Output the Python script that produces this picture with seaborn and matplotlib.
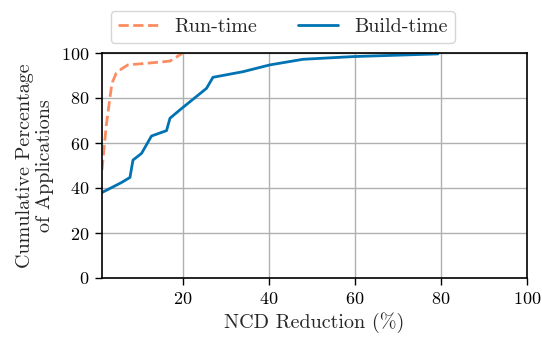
import pandas as pd
import seaborn as sns
import matplotlib.pyplot as plt

# cumulative share of applications vs NCD reduction
run_x = [1.2, 1.6, 2.2, 3.5, 4.5, 5.8, 7.2, 12.0, 17.0, 20.0]
run_y = [48.0, 56.0, 68.0, 86.5, 91.0, 93.0, 94.7, 95.5, 96.4, 100.0]

build_x = [1.2, 5.7, 7.7, 8.4, 10.4, 12.7, 16.2, 17.0, 19.3, 25.5, 27.0, 34.0, 40.2, 47.9, 59.5, 79.3]
build_y = [38.0, 42.4, 44.7, 52.4, 55.4, 63.1, 65.5, 71.0, 74.7, 84.3, 89.2, 91.7, 94.7, 97.2, 98.4, 99.6]

sns.set_style("ticks")
plt.rcParams['font.family'] = 'serif'
plt.rcParams['font.serif'] = ['cmr10']
plt.rcParams['mathtext.fontset'] = 'cm'
plt.rcParams['axes.formatter.use_mathtext'] = True

df_run = pd.DataFrame({"x": run_x, "y": run_y})
df_build = pd.DataFrame({"x": build_x, "y": build_y})

fig = plt.figure(figsize=(5.42, 3.37), dpi=100)
ax = fig.add_axes([102 / 542, 1 - 278 / 337, 425 / 542, 225 / 337])

sns.lineplot(data=df_run, x="x", y="y", ax=ax, sort=False, color="#FC8D62",
             linestyle="--", linewidth=2, label="Run-time")
sns.lineplot(data=df_build, x="x", y="y", ax=ax, sort=False, color="#0173B2",
             linewidth=2, label="Build-time")

ax.set_xlim(1.2, 100)
ax.set_ylim(0, 100)
ax.set_xticks([20, 40, 60, 80, 100])
ax.set_yticks([0, 20, 40, 60, 80, 100])
ax.grid(True, color="#b0b0b0", linewidth=1)
ax.set_axisbelow(True)
for s in ax.spines.values():
    s.set_color("black")
    s.set_linewidth(1.2)
ax.tick_params(labelsize=13, colors="black", width=1, length=5, pad=4)

ax.set_xlabel("NCD Reduction (%)", fontsize=14.5, labelpad=4)
ax.set_ylabel("Cumulative Percentage\nof Applications", fontsize=14.5,
              labelpad=5, linespacing=1.15)

ax.legend(loc="upper left", bbox_to_anchor=(111 / 542, 1 - 11 / 337),
          bbox_transform=fig.transFigure, ncol=2, fontsize=14.5, frameon=True,
          handlelength=2.0, columnspacing=2.0, borderaxespad=0,
          borderpad=0.35)

plt.savefig("out.png", dpi=100)
